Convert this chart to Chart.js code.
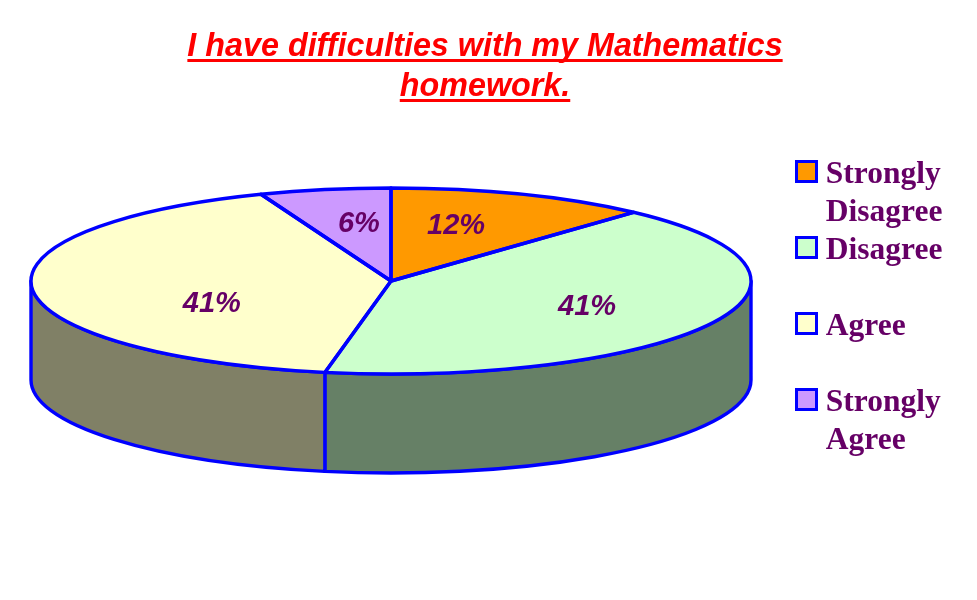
<!DOCTYPE html>
<html>
<head>
<meta charset="utf-8">
<style>html,body{margin:0;padding:0;background:#fff}#w{width:977px;height:600px}</style>
<script src="https://cdn.jsdelivr.net/npm/chart.js@4/dist/chart.umd.min.js"></script>
</head>
<body>
<div id="w"><canvas id="c" width="977" height="600"></canvas></div>
<script>
const titleLines = ['I have difficulties with my Mathematics', 'homework.'];
const categories = [['Strongly', 'Disagree'], ['Disagree', ' '], ['Agree', ' '], ['Strongly', 'Agree']];
const values = [2, 7, 7, 1];
const topColors = ['#FF9900', '#CCFFCC', '#FFFFCC', '#CC99FF'];
const sideColors = ['#805000', '#668066', '#808066', '#664D80'];
const labelNudgeX = [0, 35, 0, 1];
const labelNudgeY = [-12, 5, 19, -11];

const BLUE = '#0000FF', INK = '#660066', LINE = 3.4;
const RX = 360, RY = 93, DEPTH = 99, CX = 391, CY = 281;
const LEGEND_LEFT = 794, LEGEND_TOP = 159, LEGEND_ROW = 76;

const total = values.reduce((s, v) => s + v, 0);
function arcs(chart) { return chart.getDatasetMeta(0).data; }
function sliceOutline(ctx, a) {
  ctx.beginPath();
  ctx.moveTo(CX, CY);
  ctx.ellipse(CX, CY, RX, RY, 0, a.startAngle, a.endAngle);
  ctx.closePath();
}
const pie3d = {
  id: 'pie3d',
  afterLayout(chart) {
    const l = chart.legend, w = l.width, h = l.height;
    l.left = LEGEND_LEFT; l.top = LEGEND_TOP; l.right = LEGEND_LEFT + w; l.bottom = LEGEND_TOP + h;
  },
  beforeDatasetsDraw(chart) {
    const ctx = chart.ctx, list = arcs(chart);
    ctx.save();
    ctx.lineWidth = LINE; ctx.strokeStyle = BLUE; ctx.lineJoin = 'round';
    list.forEach((a, i) => {
      for (const shift of [0, -2 * Math.PI]) {
        const s = Math.max(a.startAngle + shift, 0), e = Math.min(a.endAngle + shift, Math.PI);
        if (e <= s) continue;
        ctx.beginPath();
        ctx.ellipse(CX, CY, RX, RY, 0, s, e);
        ctx.lineTo(CX + RX * Math.cos(e), CY + DEPTH + RY * Math.sin(e));
        ctx.ellipse(CX, CY + DEPTH, RX, RY, 0, e, s, true);
        ctx.closePath();
        ctx.fillStyle = sideColors[i];
        ctx.fill();
        ctx.stroke();
      }
    });
    ctx.restore();
    const a0 = list[0];
    ctx.save();
    ctx.translate(CX, CY);
    ctx.scale(RX / a0.outerRadius, RY / a0.outerRadius);
    ctx.translate(-a0.x, -a0.y);
  },
  afterDatasetsDraw(chart) {
    const ctx = chart.ctx, list = arcs(chart);
    ctx.restore();
    ctx.save();
    ctx.lineWidth = LINE; ctx.strokeStyle = BLUE; ctx.lineJoin = 'round';
    list.forEach(a => { sliceOutline(ctx, a); ctx.stroke(); });
    ctx.fillStyle = INK;
    ctx.font = 'italic bold 29px "Liberation Sans"';
    ctx.textAlign = 'center'; ctx.textBaseline = 'middle';
    list.forEach((a, i) => {
      const m = (a.startAngle + a.endAngle) / 2;
      ctx.fillText(Math.round(values[i] / total * 100) + '%',
        CX + 0.5 * RX * Math.cos(m) + labelNudgeX[i],
        CY + 0.5 * RY * Math.sin(m) + labelNudgeY[i]);
    });
    ctx.restore();
  },
  afterDraw(chart) {
    const ctx = chart.ctx, t = chart.titleBlock;
    ctx.save();
    ctx.font = 'italic bold ' + t.options.font.size + 'px "Liberation Sans"';
    ctx.fillStyle = 'red';
    const mid = (t.left + t.right) / 2;
    titleLines.forEach((line, i) => {
      const w = ctx.measureText(line).width;
      ctx.fillRect(mid - w / 2, 59 + i * 40, w, 3);
    });
    // legend swatches, one per legend row
    ctx.lineWidth = 3; ctx.strokeStyle = BLUE;
    topColors.forEach((c, i) => {
      const x = chart.legend.left + 2.5, y = chart.legend.top + 2.5 + i * LEGEND_ROW;
      ctx.fillStyle = c;
      ctx.fillRect(x, y, 20, 20);
      ctx.strokeRect(x, y, 20, 20);
    });
    ctx.restore();
  }
};

new Chart(document.getElementById('c'), {
  type: 'pie',
  data: {
    labels: categories,
    datasets: [{ data: values, backgroundColor: topColors, borderWidth: 0, clip: false, radius: RX }]
  },
  options: {
    responsive: false,
    animation: false,
    layout: { padding: { right: 7, top: 0 } },
    events: [],
    plugins: {
      tooltip: { enabled: false },
      title: {
        display: true,
        text: titleLines,
        color: 'red',
        font: { family: '"Liberation Sans"', size: 32.3, style: 'italic', weight: 'bold', lineHeight: 1.238 },
        padding: { top: 27, bottom: 0 }
      },
      legend: {
        position: 'right',
        align: 'start',
        labels: {
          boxWidth: 16, boxHeight: 20, padding: 0, color: INK,
          font: { family: '"Liberation Serif"', size: 31.5, weight: 'bold', lineHeight: 1.2063 },
          generateLabels() {
            return categories.map((c, i) => ({
              text: c, fillStyle: 'rgba(0,0,0,0)', strokeStyle: 'rgba(0,0,0,0)', lineWidth: 0, fontColor: INK, index: i, hidden: false
            }));
          }
        }
      }
    }
  },
  plugins: [pie3d]
});
</script>
</body>
</html>
